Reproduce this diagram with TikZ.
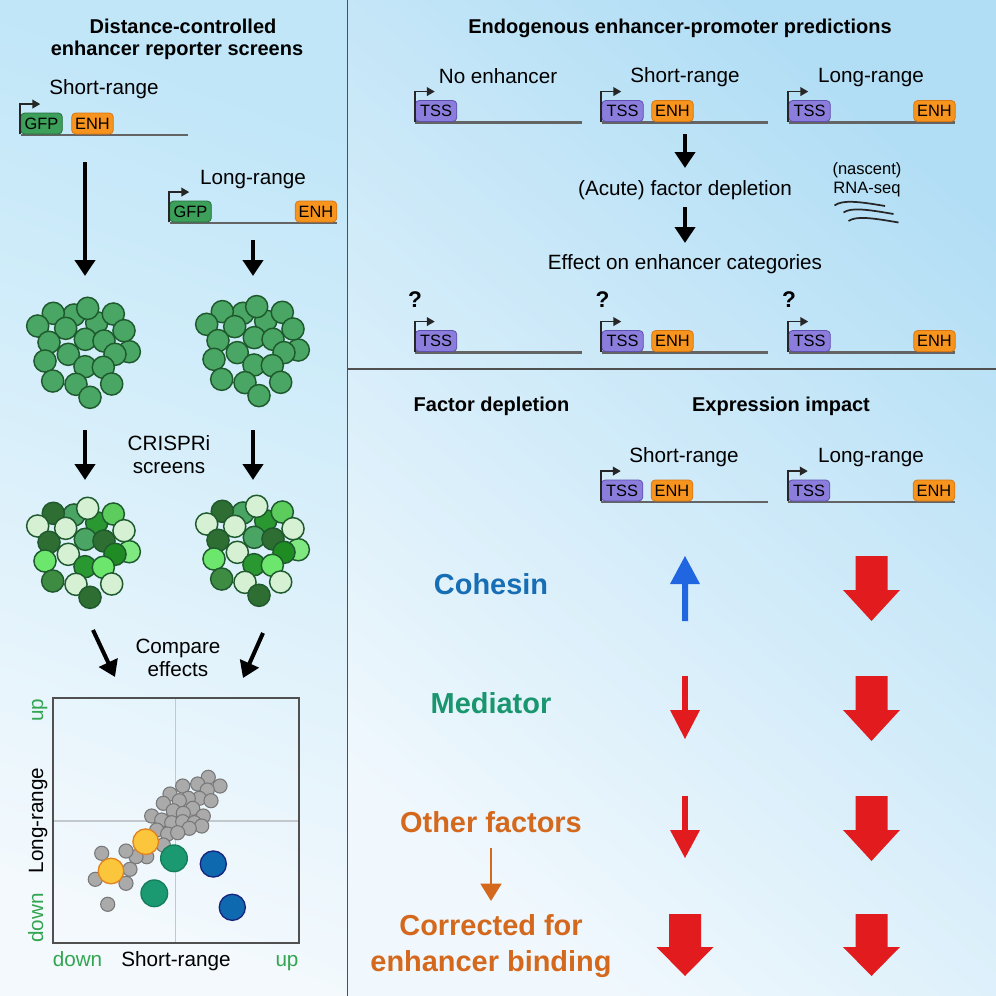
\documentclass[tikz,border=0pt]{standalone}
\usepackage{fontspec}
\setmainfont{Liberation Sans}
\usetikzlibrary{arrows.meta}
\newcommand{\fsreg}{\fontsize{15.5}{18}\selectfont}
\newcommand{\fssmall}{\fontsize{12.4}{14}\selectfont}
\newcommand{\fsbox}{\fontsize{12.3}{14}\selectfont}
\newcommand{\fsttl}{\fontsize{15}{18}\selectfont\bfseries}
\newcommand{\fsbig}{\fontsize{21.7}{26}\selectfont\bfseries}
\newcommand{\fsq}{\fontsize{17}{20}\selectfont\bfseries}
\definecolor{bgLtop}{RGB}{192,230,248}
\definecolor{bgLbot}{RGB}{243,249,253}
\definecolor{bgRtop}{RGB}{178,222,245}
\definecolor{bgRbot}{RGB}{240,248,253}
\definecolor{framec}{RGB}{80,80,80}
\definecolor{tssfill}{RGB}{138,125,220}
\definecolor{tssdraw}{RGB}{95,80,175}
\definecolor{enhfill}{RGB}{247,148,30}
\definecolor{enhdraw}{RGB}{215,120,20}
\definecolor{gfpfill}{RGB}{60,160,90}
\definecolor{gfpdraw}{RGB}{35,110,60}
\definecolor{dnagray}{RGB}{100,100,100}
\definecolor{cellO}{RGB}{30,90,45}
\definecolor{cU}{RGB}{74,166,100}
\definecolor{cD}{RGB}{47,110,50}
\definecolor{cM}{RGB}{74,164,100}
\definecolor{cL}{RGB}{214,240,211}
\definecolor{cB}{RGB}{92,205,92}
\definecolor{cG}{RGB}{42,152,48}
\definecolor{cBL}{RGB}{128,232,128}
\definecolor{cBT}{RGB}{108,230,108}
\definecolor{cGT}{RGB}{30,140,35}
\definecolor{cMD}{RGB}{62,140,66}
\definecolor{gridc}{RGB}{195,200,205}
\definecolor{dotfill}{RGB}{170,170,170}
\definecolor{dotdraw}{RGB}{120,120,120}
\definecolor{yelfill}{RGB}{252,198,60}
\definecolor{yeldraw}{RGB}{225,130,30}
\definecolor{tealfill}{RGB}{27,153,112}
\definecolor{tealdraw}{RGB}{20,125,90}
\definecolor{bluefill}{RGB}{14,105,175}
\definecolor{bluedraw}{RGB}{25,35,125}
\definecolor{axgreen}{RGB}{50,165,80}
\definecolor{cohblue}{RGB}{24,110,180}
\definecolor{medgreen}{RGB}{25,150,110}
\definecolor{othorange}{RGB}{212,105,30}
\definecolor{redarr}{RGB}{226,28,30}
\definecolor{bluearr}{RGB}{32,102,225}
\newcommand{\promarrow}[1]{\draw[prom] (#1.south west) -- ([yshift=6.4pt]#1.north west) -- ++(20,0);}
\newcommand{\geneA}[3]{%
  \draw[dna] (#2,#3) -- (#2+166.5,#3);
  \node[tssbox] (#1t) at (#2+21,#3-11.5) {TSS};
  \promarrow{#1t}}
\newcommand{\geneS}[3]{%
  \draw[dna] (#2,#3) -- (#2+166.5,#3);
  \node[tssbox] (#1t) at (#2+21,#3-11.5) {TSS};
  \node[enhbox] (#1e) at (#2+71,#3-11.5) {ENH};
  \promarrow{#1t}}
\newcommand{\geneL}[3]{%
  \draw[dna] (#2,#3) -- (#2+166.5,#3);
  \node[tssbox] (#1t) at (#2+21,#3-11.5) {TSS};
  \node[enhbox] (#1e) at (#2+146,#3-11.5) {ENH};
  \promarrow{#1t}}
% block arrow: x, start, head base, tip, half shaft, half head, colour
\newcommand{\blockarr}[7]{\fill[#7] (#1-#5,#2) -- (#1+#5,#2) -- (#1+#5,#3) -- (#1+#6,#3) -- (#1,#4) -- (#1-#6,#3) -- (#1-#5,#3) -- cycle;}
\def\cellsU{74/315, 96.7/322.7, 129.3/351.7, 53.3/313.3, 87.7/308.3, 113.3/314, 37.7/326, 65.7/328.3, 124/330.7, 85.3/339.3, 49/342.3, 104/341, 68.3/354.3, 115/354.3, 45/361, 85/366.7, 103.3/367.3, 52.7/381, 76/384.3, 111.7/384, 90/397.3}
\def\cellsC{74/315/cM, 96.7/322.7/cG, 129.3/351.7/cBL, 53.3/313.3/cD, 87.7/308.3/cL, 113.3/314/cB, 37.7/326/cL, 65.7/328.3/cL, 124/330.7/cL, 85.3/339.3/cM, 49/342.3/cD, 104/341/cD, 68.3/354.3/cL, 115/354.3/cGT, 45/361/cBT, 85/366.7/cG, 103.3/367.3/cBT, 52.7/381/cMD, 76/384.3/cL, 111.7/384/cL, 90/397.3/cD}
\begin{document}
\begin{tikzpicture}[x=0.75pt,y=-0.75pt,
  txt/.style={font=\fsreg, inner sep=0pt, anchor=base},
  ttl/.style={font=\fsttl, inner sep=0pt, anchor=base},
  fac/.style={font=\fsbig, inner sep=0pt, anchor=base},
  qm/.style={font=\fsq, inner sep=0pt, anchor=base},
  boxb/.style={rectangle, rounded corners=3pt, minimum width=31.2pt, minimum height=15.75pt, inner sep=0pt, line width=0.6pt, font=\fsbox},
  tssbox/.style={boxb, fill=tssfill, draw=tssdraw},
  enhbox/.style={boxb, fill=enhfill, draw=enhdraw},
  gfpbox/.style={boxb, fill=gfpfill, draw=gfpdraw},
  dna/.style={draw=dnagray, line width=1.6pt},
  prom/.style={draw=black!85, line width=1.3pt, -{Triangle[length=6pt,width=6.5pt]}},
  flow/.style={line width=3pt, -{Triangle[length=12pt,width=15pt]}},
  oflow/.style={draw=othorange, line width=2.2pt, -{Triangle[length=13pt,width=15.5pt]}},
  cell/.style={draw=cellO, line width=1.1pt},
  dot/.style={fill=dotfill, draw=dotdraw, line width=0.8pt},
  wave/.style={draw=black!85, line width=1.3pt},
]
\useasboundingbox (0,0) rectangle (996,996);
% backgrounds
\shade[top color=bgLtop, bottom color=bgLbot, shading angle=-20] (0,0) rectangle (347.5,996);
\shade[top color=bgRtop, bottom color=bgRbot, shading angle=-40] (347.5,0) rectangle (996,996);
\draw[framec, line width=1.2pt] (347.5,0) -- (347.5,996);
\draw[framec, line width=1.2pt] (347.5,369) -- (996,369);

% ===== left panel =====
\node[ttl] (t1a) at (183,33) {Distance-controlled};
\node[ttl] (t1b) at (177,55) {enhancer reporter screens};
\node[txt] (lsr) at (104,94) {Short-range};
\draw[dna] (20.5,135) -- (188,135);
\node[gfpbox] (lsgfp) at (41.5,123.5) {GFP};
\node[enhbox] (lsenh) at (92.5,123.5) {ENH};
\promarrow{lsgfp}
\node[txt] (llr) at (253,184) {Long-range};
\draw[dna] (169.5,223) -- (337,223);
\node[gfpbox] (llgfp) at (190.5,211.5) {GFP};
\node[enhbox] (llenh) at (316,211.5) {ENH};
\promarrow{llgfp}

\coordinate (a1s) at (85,162); \coordinate (a1e) at (85,276);
\coordinate (a2s) at (253,240); \coordinate (a2e) at (253,276);
\draw[flow] (a1s) -- (a1e);
\draw[flow] (a2s) -- (a2e);

% clusters
\foreach \x/\y in \cellsU { \draw[cell, fill=cU] (\x,\y) circle[radius=8.3pt]; }
\begin{scope}[shift={(169,-1.7)}]
\foreach \x/\y in \cellsU { \draw[cell, fill=cU] (\x,\y) circle[radius=8.3pt]; }
\end{scope}
\begin{scope}[shift={(0,200)}]
\foreach \x/\y/\c in \cellsC { \draw[cell, fill=\c] (\x,\y) circle[radius=8.3pt]; }
\end{scope}
\begin{scope}[shift={(169,198)}]
\foreach \x/\y/\c in \cellsC { \draw[cell, fill=\c] (\x,\y) circle[radius=8.3pt]; }
\end{scope}

\coordinate (a3s) at (85,430); \coordinate (a3e) at (85,480);
\coordinate (a4s) at (253,430); \coordinate (a4e) at (253,480);
\draw[flow] (a3s) -- (a3e);
\draw[flow] (a4s) -- (a4e);
\node[txt] (crispr) at (169,450) {CRISPRi};
\node[txt] (scr) at (169,473) {screens};

\node[txt] (cmp) at (178,653) {Compare};
\node[txt] (eff) at (178,676) {effects};
\coordinate (a5s) at (93,630); \coordinate (a5e) at (115,677);
\coordinate (a6s) at (263,633); \coordinate (a6e) at (243,678);
\draw[flow] (a5s) -- (a5e);
\draw[flow] (a6s) -- (a6e);

% scatter plot
\draw[gridc, line width=0.8pt] (175.7,698) -- (175.7,943);
\draw[gridc, line width=0.8pt] (53,821) -- (299,821);
\foreach \x/\y in {208.3/777.3, 197.7/784, 220/786, 182.7/786, 207.3/790, 170/794, 199.3/798.3, 188.3/798.3, 211/800.7, 179.3/800.7, 163.3/803.3, 173.3/810.7, 192.7/808.3, 183.3/813.3, 203.3/816, 151.7/816, 161.7/820, 171.7/822.7, 182.7/821.7, 194.3/822.7, 201.7/826, 189.3/828.3, 156.7/830, 167.7/834, 177.7/832.7, 163.3/845, 146.7/856.7, 136/856.7, 126/851, 101.7/853.3, 130/869.3, 95.3/879.3, 126/883.3, 107.7/904.3}
  { \draw[dot] (\x,\y) circle[radius=5.3pt]; }
\draw[fill=yelfill, draw=yeldraw, line width=1pt] (145.7,841.7) circle[radius=9.6pt];
\draw[fill=yelfill, draw=yeldraw, line width=1pt] (111,871) circle[radius=9.6pt];
\draw[fill=tealfill, draw=tealdraw, line width=1pt] (174,858.3) circle[radius=10pt];
\draw[fill=tealfill, draw=tealdraw, line width=1pt] (154.3,893.3) circle[radius=10pt];
\draw[fill=bluefill, draw=bluedraw, line width=1pt] (213.3,864) circle[radius=9.8pt];
\draw[fill=bluefill, draw=bluedraw, line width=1pt] (232.3,907.3) circle[radius=9.8pt];
\draw[framec, line width=1pt] (53,698) rectangle (299,943);
\node[txt, text=axgreen] (xdown) at (77.5,966) {down};
\node[txt] (xlab) at (176,966) {Short-range};
\node[txt, text=axgreen] (xup) at (287,966) {up};
\node[txt, rotate=90] (ylab) at (43,820.5) {Long-range};
\node[txt, rotate=90, text=axgreen] (yup) at (43,710) {up};
\node[txt, rotate=90, text=axgreen] (ydown) at (43,918) {down};

% ===== right top panel =====
\node[ttl] (t2) at (680,33) {Endogenous enhancer-promoter predictions};
\node[txt] (noe) at (498,83) {No enhancer};
\node[txt] (sr1) at (685,82) {Short-range};
\node[txt] (lr1) at (871,82) {Long-range};
\geneA{ra}{415}{122.5}
\geneS{rb}{601.5}{122.5}
\geneL{rc}{788.5}{122.5}
\coordinate (b1s) at (685,134); \coordinate (b1e) at (685,168);
\draw[flow] (b1s) -- (b1e);
\node[txt] (acute) at (685,195) {(Acute) factor depletion};
\coordinate (b2s) at (685,207); \coordinate (b2e) at (685,243);
\draw[flow] (b2s) -- (b2e);
\node[txt] (effcat) at (685,269) {Effect on enhancer categories};
\node[font=\fssmall, inner sep=0pt, anchor=base] (nas) at (867,174) {(nascent)};
\node[font=\fssmall, inner sep=0pt, anchor=base] (rnas) at (867,193) {RNA-seq};
\draw[wave] (834.5,205.5) .. controls (842,200) and (856,201) .. (885,206);
\draw[wave] (843.5,212.5) .. controls (851,207.5) and (865,209) .. (893.5,214);
\draw[wave] (848.5,221) .. controls (856,216) and (870,217.5) .. (898.5,222.5);
\node[qm] (q1) at (415,307) {?};
\node[qm] (q2) at (602.5,307) {?};
\node[qm] (q3) at (789,307) {?};
\geneA{sa}{415}{352.5}
\geneS{sb}{601.5}{352.5}
\geneL{sc}{788.5}{352.5}

% ===== right bottom panel =====
\node[ttl] (fd) at (491.5,411) {Factor depletion};
\node[ttl] (ei) at (781,411) {Expression impact};
\node[txt] (sr3) at (684,462) {Short-range};
\node[txt] (lr3) at (871,462) {Long-range};
\geneS{ub}{601}{502}
\geneL{uc}{788}{502}

\node[fac, text=cohblue] (coh) at (491,594) {Cohesin};
\node[fac, text=medgreen] (med) at (491,713) {Mediator};
\node[fac, text=othorange] (oth) at (491,832.5) {Other factors};
\node[fac, text=othorange] (cor1) at (491,935.5) {Corrected for};
\node[fac, text=othorange] (cor2) at (491,971) {enhancer binding};
\coordinate (o1s) at (491,848); \coordinate (o1e) at (491,901);
\draw[oflow] (o1s) -- (o1e);

\blockarr{685}{621}{584}{556}{3}{15}{bluearr}
\blockarr{871.5}{556}{590}{621}{16}{28.5}{redarr}
\blockarr{685}{676}{710}{739}{2.9}{15}{redarr}
\blockarr{871.5}{676}{710}{741}{16}{28.5}{redarr}
\blockarr{685}{796}{830}{858}{2.9}{15}{redarr}
\blockarr{871.5}{796}{830}{861}{16}{28.5}{redarr}
\blockarr{685}{914}{947}{976}{16}{28.5}{redarr}
\blockarr{871.5}{914}{947}{976}{16}{28.5}{redarr}
\end{tikzpicture}
\end{document}
